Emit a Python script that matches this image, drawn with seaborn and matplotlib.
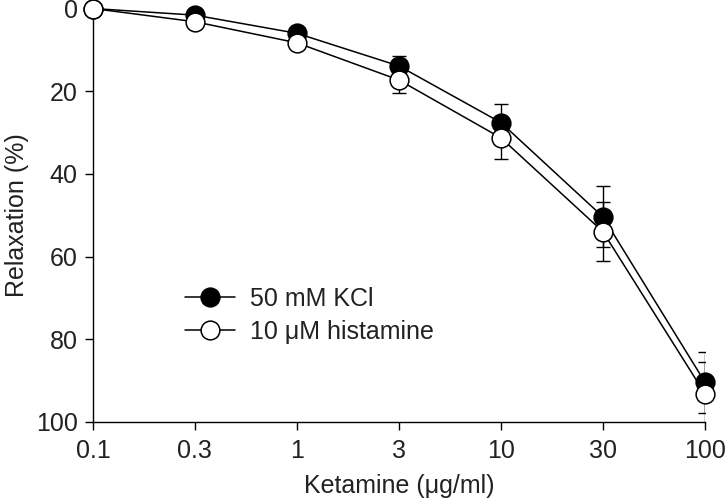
import matplotlib
matplotlib.use("Agg")
import matplotlib.pyplot as plt
import seaborn as sns
import pandas as pd

# concentrações de cetamina (µg/ml) e relaxamento médio (%)
concentracoes = ["0.1", "0.3", "1", "3", "10", "30", "100"]
kcl_media = [0, 1.6, 6.0, 13.9, 27.6, 50.4, 90.4]
kcl_erro = [0, 0.2, 0.4, 2.4, 4.6, 7.4, 7.4]
hist_media = [0, 3.2, 8.3, 17.3, 31.3, 54.0, 93.2]
hist_erro = [0, 0.3, 0.5, 3.2, 5.0, 7.2, 7.6]

rotulo_kcl = "50 mM KCl"
rotulo_hist = "10 \u03bcM histamine"

posicoes = list(range(len(concentracoes)))
df_kcl = pd.DataFrame({"pos": posicoes, "relax": kcl_media})
df_hist = pd.DataFrame({"pos": posicoes, "relax": hist_media})

sns.set_style("ticks")
plt.rcParams["font.family"] = ["Liberation Sans", "DejaVu Sans"]
cor_texto = "#222222"
tam_fonte = 18

fig = plt.figure(figsize=(7.26, 5.01), dpi=100)
ax = fig.add_axes([0.128, 0.158, 0.843, 0.825])

# barras de erro por baixo dos marcadores
ax.errorbar(posicoes, kcl_media, yerr=kcl_erro, fmt="none", ecolor="black",
            elinewidth=1.0, capsize=4.8, capthick=1.0, zorder=1)
ax.errorbar(posicoes, hist_media, yerr=hist_erro, fmt="none", ecolor="black",
            elinewidth=1.0, capsize=4.8, capthick=1.0, zorder=1)

sns.lineplot(data=df_kcl, x="pos", y="relax", ax=ax, color="black", linewidth=1.1,
             marker="o", markersize=13.5, markerfacecolor="black",
             markeredgecolor="black", markeredgewidth=1.1,
             label=rotulo_kcl, clip_on=False, zorder=3)
sns.lineplot(data=df_hist, x="pos", y="relax", ax=ax, color="black", linewidth=1.1,
             marker="o", markersize=13.5, markerfacecolor="white",
             markeredgecolor="black", markeredgewidth=1.1,
             label=rotulo_hist, clip_on=False, zorder=4)

ax.set_xlim(0, len(concentracoes) - 1)
ax.set_ylim(100, 0)
ax.set_xticks(posicoes)
ax.set_xticklabels(concentracoes)
ax.set_yticks([0, 20, 40, 60, 80, 100])

ax.set_xlabel("Ketamine (\u03bcg/ml)", fontsize=tam_fonte, color=cor_texto, labelpad=8)
ax.set_ylabel("Relaxation (%)", fontsize=tam_fonte, color=cor_texto, labelpad=5)
ax.tick_params(axis="both", labelsize=tam_fonte, labelcolor=cor_texto,
               direction="out", length=6, width=1.0, color="black", pad=5)
ax.tick_params(axis="x", pad=6)

for lado in ["top", "right"]:
    ax.spines[lado].set_visible(False)
for lado in ["left", "bottom"]:
    ax.spines[lado].set_linewidth(1.0)
    ax.spines[lado].set_color("black")

leg = ax.legend(loc="center left", bbox_to_anchor=(0.150, 0.258), frameon=False,
                fontsize=tam_fonte, handlelength=2.0, handletextpad=0.6,
                labelspacing=0.35, borderaxespad=0, borderpad=0)
for txt in leg.get_texts():
    txt.set_color(cor_texto)

fig.savefig("out.png", dpi=100)
